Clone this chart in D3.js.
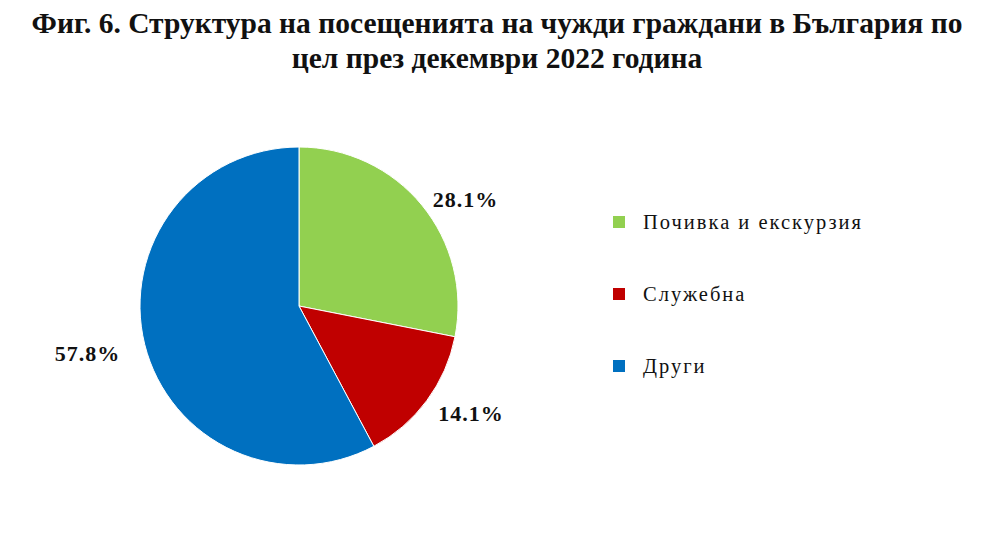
<!DOCTYPE html>
<html><head><meta charset="utf-8">
<script src="https://cdn.jsdelivr.net/npm/d3@7"></script>
<style>body{margin:0;background:#fff;}</style>
</head><body>
<svg id="c" width="991" height="540"></svg>
<script>
const categories = ["Почивка и екскурзия", "Служебна", "Други"];
const values = [28.1, 14.1, 57.8];
const colors = ["#92D050", "#C00000", "#0070C0"];
const titleLines = ["Фиг. 6. Структура на посещенията на чужди граждани в България по", "цел през декември 2022 година"];

const svg = d3.select("#c");
svg.append("rect").attr("width",991).attr("height",540).attr("fill","#fff");

const serif = "Liberation Serif, Times New Roman, serif";
svg.selectAll("text.title").data(titleLines).join("text")
  .attr("class","title")
  .attr("x",497).attr("y",(d,i)=>33+i*35)
  .attr("text-anchor","middle")
  .attr("font-family",serif)
  .attr("font-weight","bold").attr("font-size",29.5)
  .attr("fill","#111")
  .text(d=>d);

const cx=299, cy=306, r=159;
const pie = d3.pie().sort(null).value(d=>d);
const arcs = pie(values);
const arc = d3.arc().innerRadius(0).outerRadius(r);
const g = svg.append("g").attr("transform",`translate(${cx},${cy})`);
g.selectAll("path").data(arcs).join("path")
  .attr("d",arc).attr("fill",(d,i)=>colors[i])
  .attr("stroke","#fff").attr("stroke-width",1);

const R = 172;
g.selectAll("text.lbl").data(arcs).join("text")
  .attr("class","lbl")
  .each(function(d){
    const a=(d.startAngle+d.endAngle)/2;
    const x=Math.sin(a)*R, y=-Math.cos(a)*R;
    d3.select(this).attr("x", x + (x>0?1:-12)).attr("y", y + 10 + (y>0?3:0))
      .attr("text-anchor", x>0?"start":"end");
  })
  .attr("font-family",serif)
  .attr("font-weight","bold").attr("font-size",22).attr("letter-spacing",1).attr("fill","#111")
  .text(d=>d.data.toFixed(1)+"%");

const leg = svg.append("g");
const ly = d3.scalePoint().domain(categories).range([222,366]);
categories.forEach((c,i)=>{
  leg.append("rect").attr("x",613).attr("y",ly(c)-6).attr("width",12).attr("height",12).attr("fill",colors[i]);
  leg.append("text").attr("x",643).attr("y",ly(c)).attr("dy","0.35em")
    .attr("font-family",serif).attr("letter-spacing",2)
    .attr("font-size",20.5).attr("fill","#111").text(c);
});
</script>
</body></html>
